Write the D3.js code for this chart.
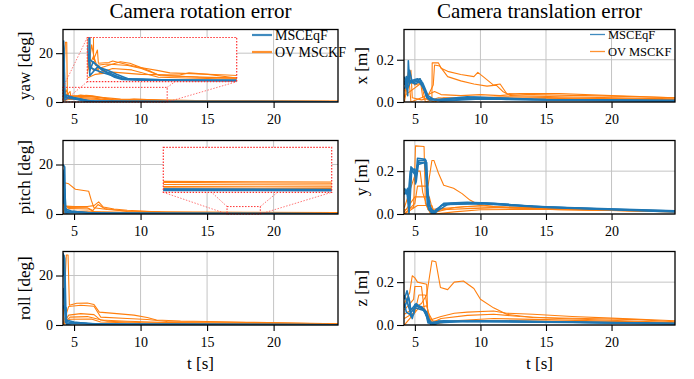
<!DOCTYPE html>
<html>
<head>
<meta charset="utf-8">
<script src="https://cdn.jsdelivr.net/npm/d3@7"></script>
<style>
  body { margin: 0; background: #fff; }
  text { font-family: "Liberation Serif", serif; fill: #000; }
</style>
</head>
<body>
<div id="chart-area"></div>
<script>
// time axis and ticks
var tDomain = [4.17, 24.84]
var tTicks = [5, 10, 15, 20]
var rotTicks = [0, 20]
var transTicks = [0.0, 0.2]
var rotMax = 29.7
var transMax = 0.343
var seriesNames = ["MSCEqF", "OV MSCKF"]

// each run is a list of [t, error]
var yawMsceqf = [
  [[4.17,24],[4.25,22],[4.3,3],[4.5,2.6],[4.8,2.0],[5.2,1.2],[5.6,0.6],[6,0.3],[7,0.2],[10,0.15],[15,0.1],[24.84,0.1]],
  [[4.17,10],[4.22,25],[4.3,1.5],[4.48,2.7],[4.92,1.6],[5.3,1.2],[5.97,0.46],[6.5,0.35],[8,0.25],[12,0.15],[24.84,0.12]],
  [[4.17,5],[4.28,2],[4.6,1.6],[5,1.2],[5.5,0.8],[6.2,0.35],[8,0.2],[24.84,0.08]],
  [[4.17,20],[4.3,0.8],[4.7,2.0],[5.2,1.6],[5.7,1.0],[6.3,0.4],[9,0.2],[24.84,0.1]]
]
var yawOvMsckf = [
  [[4.17,2],[4.35,24.5],[4.45,24.5],[4.5,3],[4.7,4.3],[4.75,2.5],[5.3,2.6],[5.5,2.8],[6.3,2.3],[6.8,2.0],[7.9,1.5],[8.5,1.2],[11.5,0.9],[15,0.5],[24.84,0.3]],
  [[4.17,1],[4.4,5],[4.6,2.2],[5.2,2.4],[6.3,2.2],[7.0,1.8],[7.9,0.9],[10,0.6],[15,0.35],[24.84,0.25]],
  [[4.17,3],[4.5,1.5],[5.0,2.0],[5.9,2.7],[6.4,2.5],[7.5,1.4],[8,0.8],[12,0.5],[24.84,0.2]],
  [[4.17,1.5],[4.5,3.5],[4.8,1.2],[5.5,1.8],[6.5,1.6],[7.9,0.6],[11,0.4],[24.84,0.15]],
  [[4.17,0.5],[4.6,1.0],[5.5,1.3],[7,1.0],[9,0.9],[9.5,1.2],[10.5,1.0],[12,0.5],[24.84,0.25]]
]

var pitchMsceqf = [
  [[4.17,20],[4.3,19],[4.35,1.5],[4.6,0.8],[5.5,0.5],[8,0.3],[24.84,0.12]],
  [[4.17,12],[4.25,16],[4.32,0.5],[5,1.0],[6,0.6],[7,0.35],[12,0.15],[24.84,0.08]],
  [[4.17,4],[4.3,10],[4.4,0.4],[5.5,0.7],[7,0.3],[24.84,0.1]],
  [[4.17,18],[4.33,2],[4.8,1.2],[6,0.4],[10,0.2],[24.84,0.1]]
]
var pitchOvMsckf = [
  [[4.17,1],[4.3,12.6],[4.6,12.2],[5.1,10],[6.1,9.2],[6.3,5.5],[6.5,2.5],[7.5,1.8],[9,1.2],[12,0.8],[18,0.7],[24.84,0.62]],
  [[4.17,0.5],[4.4,3.2],[5,3.0],[6.0,3.0],[6.5,3.4],[6.85,4.9],[7.2,2.8],[8,2.0],[9,1.5],[11.5,0.8],[18,0.62],[24.84,0.5]],
  [[4.17,0.8],[4.5,2.6],[6.0,2.5],[6.4,1.4],[6.8,3.8],[7.3,2.2],[9,1.0],[14,0.55],[18,0.5],[24.84,0.4]],
  [[4.17,0.3],[4.6,2.2],[6.1,2.0],[6.5,1.0],[8,0.8],[12,0.45],[18,0.37],[24.84,0.33]],
  [[4.17,0.2],[4.6,1.0],[6,1.2],[7,0.7],[10,0.4],[18,0.27],[24.84,0.22]]
]

var rollMsceqf = [
  [[4.17,29],[4.3,27],[4.4,2],[5,1.2],[6,0.6],[9,0.3],[24.84,0.1]],
  [[4.17,20],[4.25,28],[4.35,1],[4.6,0.5],[5.5,0.8],[7,0.3],[24.84,0.1]],
  [[4.17,8],[4.3,6],[4.4,7],[4.45,0.3],[5,0.9],[7,0.35],[24.84,0.08]],
  [[4.17,15],[4.38,1.5],[5,0.6],[8,0.25],[24.84,0.06]]
]
var rollOvMsckf = [
  [[4.17,1],[4.42,28.3],[4.55,28.3],[4.65,8],[5.2,8.8],[6.0,8.9],[6.5,8.3],[6.9,5.2],[8,4.7],[9.5,4.0],[10.5,3.0],[11.2,2.0],[13,1.6],[18,1.1],[24.84,0.5]],
  [[4.17,0.5],[4.6,7.5],[5.5,8.0],[6.5,7.6],[7.0,3.2],[9,2.6],[10.5,2.2],[12,1.4],[18,1.0],[24.84,0.4]],
  [[4.17,0.3],[4.6,4.0],[5.5,4.6],[6.5,4.2],[7,2.0],[9,1.5],[12,1.0],[24.84,0.3]],
  [[4.17,0.2],[4.7,3.2],[6,3.4],[6.6,2.6],[7.5,1.5],[10,1.0],[24.84,0.25]],
  [[4.17,0.1],[4.7,2.3],[6.3,2.4],[7,1.2],[10,0.7],[24.84,0.2]]
]

var xMsceqf = [
  [[4.2,0.08],[4.35,0.12],[4.45,0.03],[4.5,0.195],[4.6,0.09],[5,0.1],[5.4,0.11],[5.7,0.06],[6,0.015],[7,0.01],[9,0.02],[10,0.018],[12,0.012],[16,0.008],[24.84,0.005]],
  [[4.2,0.1],[4.4,0.08],[4.6,0.15],[4.8,0.09],[5.3,0.1],[5.6,0.09],[6.0,0.03],[6.5,0.01],[9,0.025],[11,0.02],[15,0.012],[24.84,0.008]],
  [[4.2,0.06],[4.5,0.11],[5,0.085],[5.5,0.1],[5.9,0.02],[7,0.005],[10,0.015],[16,0.01],[24.84,0.004]],
  [[4.2,0.12],[4.4,0.06],[4.7,0.1],[5.2,0.11],[5.6,0.07],[6.1,0.01],[8,0.008],[9.5,0.022],[14,0.012],[24.84,0.006]]
]
var xOvMsckf = [
  [[4.2,0.0],[4.5,0.1],[4.7,0.15],[4.8,0.02],[5.5,0.01],[6.3,0.02],[6.32,0.185],[6.8,0.185],[7.0,0.16],[7.5,0.145],[8.5,0.13],[9.5,0.12],[9.8,0.14],[10.3,0.115],[11,0.08],[11.5,0.085],[12,0.04],[14,0.035],[18,0.03],[22,0.025],[24.84,0.02]],
  [[4.2,0.05],[4.6,0.12],[5.0,0.08],[5.5,0.09],[6.0,0.03],[6.4,0.08],[6.5,0.175],[6.9,0.17],[7.5,0.12],[8.5,0.1],[9.5,0.085],[10.5,0.075],[11.2,0.08],[11.7,0.05],[12.3,0.03],[16,0.025],[24.84,0.015]],
  [[4.2,0.02],[4.5,0.14],[4.7,0.0],[5.5,0.02],[6.5,0.05],[7,0.035],[8.5,0.03],[10,0.035],[11.5,0.03],[13,0.04],[16,0.04],[20,0.03],[24.84,0.02]],
  [[4.2,0.08],[4.9,0.1],[5.4,0.11],[5.6,0.02],[6.5,0.0],[7.2,0.02],[9,0.02],[12,0.025],[16,0.02],[24.84,0.01]],
  [[4.2,0.03],[5.5,0.09],[5.8,0.0],[6.8,0.02],[8,0.015],[10.5,0.02],[14,0.018],[24.84,0.012]]
]

var yMsceqf = [
  [[4.2,0.11],[4.5,0.1],[4.55,0.01],[4.7,0.22],[5.0,0.2],[5.05,0.14],[5.2,0.26],[5.8,0.255],[5.95,0.04],[6.3,0.0],[6.6,0.02],[7.2,0.046],[8,0.05],[10,0.052],[12,0.045],[15,0.032],[20,0.022],[24.84,0.014]],
  [[4.2,0.09],[4.45,0.12],[4.6,0.03],[4.75,0.2],[5.1,0.19],[5.25,0.24],[5.9,0.24],[6.05,0.02],[6.5,0.0],[7,0.04],[8,0.048],[10,0.05],[13,0.04],[17,0.028],[24.84,0.012]],
  [[4.2,0.1],[4.5,0.09],[4.65,0.2],[5.0,0.21],[5.1,0.15],[5.3,0.25],[5.85,0.25],[6.0,0.05],[6.45,0.005],[7.2,0.05],[9,0.055],[11,0.05],[14,0.035],[24.84,0.015]],
  [[4.2,0.12],[4.4,0.1],[4.55,0.005],[4.7,0.21],[5.05,0.18],[5.2,0.23],[5.75,0.24],[6.0,0.1],[6.2,0.02],[6.6,0.01],[7.5,0.045],[10,0.048],[15,0.03],[24.84,0.01]]
]
var yOvMsckf = [
  [[4.2,0.02],[4.9,0.03],[5.05,0.318],[5.7,0.315],[5.8,0.05],[6.2,0.0],[7,0.02],[9,0.025],[12,0.03],[16,0.02],[24.84,0.012]],
  [[4.2,0.0],[5.0,0.05],[5.2,0.13],[6.0,0.13],[6.3,0.25],[6.45,0.25],[6.8,0.19],[7.2,0.134],[7.95,0.12],[8.6,0.095],[9.2,0.065],[9.8,0.045],[11,0.035],[14,0.03],[20,0.02],[24.84,0.015]],
  [[4.2,0.01],[5.0,0.08],[6.1,0.08],[6.4,0.005],[7,0.015],[8,0.03],[10,0.04],[12,0.03],[16,0.025],[24.84,0.01]],
  [[4.2,0.03],[5.1,0.2],[5.4,0.2],[5.6,0.1],[6.0,0.02],[7,0.025],[9,0.035],[11,0.03],[15,0.025],[24.84,0.01]],
  [[4.2,0.0],[5.2,0.04],[6.3,0.04],[6.5,0.0],[8,0.01],[10,0.02],[14,0.022],[24.84,0.012]]
]

var zMsceqf = [
  [[4.2,0.12],[4.4,0.16],[4.6,0.11],[4.7,0.04],[4.9,0.05],[5.0,0.095],[5.5,0.085],[5.9,0.06],[6.2,0.003],[6.8,0.018],[9,0.015],[12,0.018],[15,0.015],[20,0.01],[24.84,0.006]],
  [[4.2,0.14],[4.45,0.1],[4.65,0.06],[4.8,0.03],[5.05,0.09],[5.6,0.075],[6.0,0.03],[6.4,0.0],[7,0.015],[10,0.02],[14,0.016],[24.84,0.008]],
  [[4.2,0.08],[4.5,0.13],[4.7,0.07],[5.1,0.1],[5.7,0.07],[6.1,0.01],[7.2,0.02],[11,0.015],[17,0.012],[24.84,0.005]],
  [[4.2,0.1],[4.35,0.06],[4.6,0.05],[5.0,0.08],[5.8,0.065],[6.0,0.01],[6.6,0.01],[9,0.018],[16,0.014],[24.84,0.007]]
]
var zOvMsckf = [
  [[4.2,0.05],[5.5,0.1],[5.9,0.14],[6.3,0.3],[6.6,0.295],[6.95,0.175],[7.5,0.165],[8,0.2],[8.7,0.205],[9.5,0.17],[10,0.12],[11,0.08],[12,0.05],[14,0.035],[18,0.03],[22,0.025],[24.84,0.015]],
  [[4.2,0.1],[4.6,0.15],[4.8,0.23],[5.0,0.22],[5.2,0.2],[5.9,0.19],[6.0,0.02],[7,0.04],[8,0.055],[9,0.06],[11,0.065],[12,0.055],[14,0.05],[17,0.04],[20,0.032],[24.84,0.02]],
  [[4.2,0.07],[4.9,0.12],[5.0,0.18],[5.5,0.18],[5.7,0.08],[6.3,0.01],[7,0.03],[9,0.045],[11,0.05],[13,0.04],[16,0.03],[24.84,0.012]],
  [[4.2,0.03],[5.0,0.06],[5.3,0.14],[5.8,0.14],[6.0,0.06],[6.5,0.005],[8,0.02],[11,0.03],[15,0.025],[24.84,0.01]],
  [[4.2,0.0],[5.3,0.08],[5.9,0.09],[6.2,0.02],[7.5,0.015],[10,0.02],[15,0.018],[24.84,0.008]]
]

var blue = "#1f77b4", orange = "#ff7f0e", red = "#ff3030"
var serif = "'Liberation Serif', serif"
var cols = [{l: 63, r: 338}, {l: 404, r: 675}]
var rows = [{t: 29.5, b: 102}, {t: 140.5, b: 214}, {t: 251.5, b: 325}]

var rotFmt = d3.format("d"), transFmt = d3.format(".1f")

var panels = [
  {col: 0, row: 0, label: "yaw [deg]", eqf: yawMsceqf, ov: yawOvMsckf, ticks: rotTicks, ymax: rotMax, fmt: rotFmt,
   inset: {t: [4.17, 12], v: [0, 6], box: [87.3, 37.5, 236.7, 81.7]},
   legend: {x: 252, y: 35, len: 20, fs: 14, lw: 2.2}},
  {col: 0, row: 1, label: "pitch [deg]", eqf: pitchMsceqf, ov: pitchOvMsckf, ticks: rotTicks, ymax: rotMax, fmt: rotFmt,
   inset: {t: [16.5, 19], v: [0, 3], box: [163.3, 147.3, 331.7, 192.3]}},
  {col: 0, row: 2, label: "roll [deg]", eqf: rollMsceqf, ov: rollOvMsckf, ticks: rotTicks, ymax: rotMax, fmt: rotFmt},
  {col: 1, row: 0, label: "x [m]", eqf: xMsceqf, ov: xOvMsckf, ticks: transTicks, ymax: transMax, fmt: transFmt,
   legend: {x: 590, y: 34.5, len: 15, fs: 12.5, lw: 1.3}},
  {col: 1, row: 1, label: "y [m]", eqf: yMsceqf, ov: yOvMsckf, ticks: transTicks, ymax: transMax, fmt: transFmt},
  {col: 1, row: 2, label: "z [m]", eqf: zMsceqf, ov: zOvMsckf, ticks: transTicks, ymax: transMax, fmt: transFmt}
]

var svg = d3.select("#chart-area").append("svg")
    .attr("width", 694)
    .attr("height", 379)

var defs = svg.append("defs")

function drawRuns(g, eqf, ov, x, y, clipId) {
    var line = d3.line().x(d => x(d[0])).y(d => y(d[1]))
    var lg = g.append("g").attr("clip-path", "url(#" + clipId + ")")
    lg.selectAll(".ov").data(ov).enter().append("path")
        .attr("d", line)
        .attr("fill", "none")
        .attr("stroke", orange)
        .attr("stroke-width", 1.1)
        .attr("stroke-linejoin", "round")
    lg.selectAll(".eqf").data(eqf).enter().append("path")
        .attr("d", line)
        .attr("fill", "none")
        .attr("stroke", blue)
        .attr("stroke-width", 1.6)
        .attr("stroke-linejoin", "round")
}

// titles
svg.append("text").attr("x", 200.5).attr("y", 18).attr("text-anchor", "middle")
    .attr("font-family", serif).attr("font-size", "21px").text("Camera rotation error")
svg.append("text").attr("x", 539.5).attr("y", 18).attr("text-anchor", "middle")
    .attr("font-family", serif).attr("font-size", "21px").text("Camera translation error")

panels.forEach((p, i) => {
    var c = cols[p.col], r = rows[p.row]
    var x = d3.scaleLinear().domain(tDomain).range([c.l, c.r])
    var y = d3.scaleLinear().domain([0, p.ymax]).range([r.b, r.t])
    var g = svg.append("g")

    var clipId = "clip" + i
    defs.append("clipPath").attr("id", clipId).append("rect")
        .attr("x", c.l).attr("y", r.t).attr("width", c.r - c.l).attr("height", r.b - r.t)

    // grid
    g.selectAll(".vgrid").data(tTicks).enter().append("line")
        .attr("x1", d => x(d)).attr("x2", d => x(d))
        .attr("y1", r.t).attr("y2", r.b)
        .attr("stroke", "#c4c4c4").attr("stroke-width", 1)
    g.selectAll(".hgrid").data(p.ticks).enter().append("line")
        .attr("x1", c.l).attr("x2", c.r)
        .attr("y1", d => y(d)).attr("y2", d => y(d))
        .attr("stroke", "#c4c4c4").attr("stroke-width", 1)

    drawRuns(g, p.eqf, p.ov, x, y, clipId)

    if (p.inset) {
        var ins = p.inset, b = ins.box
        var sx0 = x(ins.t[0]), sx1 = x(ins.t[1]), sy0 = y(ins.v[1]), sy1 = y(ins.v[0])
        // connectors between zoomed region and inset
        var links = [[sx0, sy0, b[0], b[1]], [sx1, sy0, b[2], b[1]], [sx0, sy1, b[0], b[3]], [sx1, sy1, b[2], b[3]]]
        g.selectAll(".link").data(links).enter().append("line")
            .attr("x1", d => d[0]).attr("y1", d => d[1]).attr("x2", d => d[2]).attr("y2", d => d[3])
            .attr("stroke", red).attr("stroke-width", 1).attr("stroke-dasharray", "1.5,1.5")
            .attr("opacity", 0.65)
        g.append("rect").attr("x", sx0).attr("y", sy0).attr("width", sx1 - sx0).attr("height", sy1 - sy0)
            .attr("fill", "none").attr("stroke", red).attr("stroke-width", 1).attr("stroke-dasharray", "1.5,1.5")

        var ix = d3.scaleLinear().domain(ins.t).range([b[0], b[2]])
        var iy = d3.scaleLinear().domain(ins.v).range([b[3], b[1]])
        var iclip = "iclip" + i
        defs.append("clipPath").attr("id", iclip).append("rect")
            .attr("x", b[0]).attr("y", b[1]).attr("width", b[2] - b[0]).attr("height", b[3] - b[1])
        g.append("rect").attr("x", b[0]).attr("y", b[1]).attr("width", b[2] - b[0]).attr("height", b[3] - b[1])
            .attr("fill", "#fff")
        drawRuns(g, p.eqf, p.ov, ix, iy, iclip)
        g.append("rect").attr("x", b[0]).attr("y", b[1]).attr("width", b[2] - b[0]).attr("height", b[3] - b[1])
            .attr("fill", "none").attr("stroke", red).attr("stroke-width", 1.2).attr("stroke-dasharray", "1.5,1.5")
    }

    // frame
    g.append("rect").attr("x", c.l).attr("y", r.t).attr("width", c.r - c.l).attr("height", r.b - r.t)
        .attr("fill", "none").attr("stroke", "#000").attr("stroke-width", 1.3)

    var xAxis = g.append("g")
        .attr("transform", "translate(0," + r.b + ")")
        .call(d3.axisBottom(x).tickValues(tTicks).tickSize(6).tickPadding(6).tickFormat(d3.format("d")))
    var yAxis = g.append("g")
        .attr("transform", "translate(" + c.l + ",0)")
        .call(d3.axisLeft(y).tickValues(p.ticks).tickSize(7).tickPadding(3).tickFormat(p.fmt))
    ;[xAxis, yAxis].forEach(a => {
        a.attr("font-family", serif).attr("font-size", 14)
        a.select(".domain").remove()
        a.selectAll(".tick line").attr("stroke", "#000").attr("stroke-width", 1.1)
        a.selectAll(".tick text").attr("font-family", serif).attr("fill", "#000")
    })

    g.append("text")
        .attr("transform", "translate(" + (p.col == 0 ? 24 : 361) + "," + ((r.t + r.b) / 2) + ") rotate(-90)")
        .attr("text-anchor", "middle")
        .attr("dy", "0.35em")
        .attr("font-family", serif)
        .attr("font-size", "17px")
        .text(p.label)

    if (p.row == 2) {
        g.append("text").attr("x", (c.l + c.r) / 2).attr("y", 369)
            .attr("text-anchor", "middle").attr("font-family", serif).attr("font-size", "17px").text("t [s]")
    }

    if (p.legend) {
        var L = p.legend
        var items = [{name: seriesNames[0], color: blue}, {name: seriesNames[1], color: orange}]
        var lg = g.selectAll(".legend").data(items).enter().append("g")
            .attr("transform", (d, k) => "translate(" + L.x + "," + (L.y + k * 17) + ")")
        lg.append("line").attr("x1", 0).attr("x2", L.len)
            .attr("stroke", d => d.color).attr("stroke-width", L.lw).attr("opacity", 0.85)
        lg.append("text").attr("x", L.len + 3).attr("dy", "0.35em")
            .attr("font-family", serif).attr("font-size", L.fs + "px").text(d => d.name)
    }
})
</script>
</body>
</html>
